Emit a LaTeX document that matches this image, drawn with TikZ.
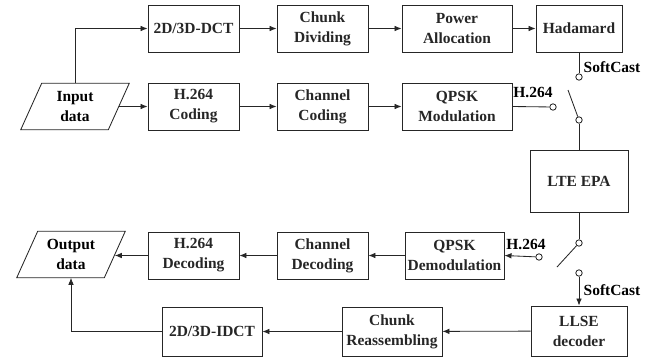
\documentclass[tikz,border=0pt]{standalone}
\usepackage{fontspec}
\setmainfont{Liberation Serif}
\usetikzlibrary{arrows.meta,calc}

\begin{document}
\begin{tikzpicture}[x=0.025cm,y=-0.025cm,
  line/.style={line width=0.6pt,color=black!85},
  arr/.style={line,-{Latex[length=5pt,width=4pt]}},
  block/.style={line,draw,align=center,minimum height=1.175cm,inner sep=1pt,
    font=\fontsize{11}{14.2}\selectfont\bfseries},
  io/.style={align=center,minimum width=2.175cm,minimum height=1.15cm,inner sep=0pt,
    font=\fontsize{11}{14.2}\selectfont\bfseries},
  contact/.style={line,draw,circle,fill=white,inner sep=0pt,minimum size=0.16cm},
  lbl/.style={font=\fontsize{11}{12}\selectfont\bfseries,inner sep=1pt}]
\useasboundingbox (0,0) rectangle (665,358);

% sender, SoftCast branch
\node[block,minimum width=2.275cm] (dct) at (193.5,28.5) {2D/3D-DCT};
\node[block,minimum width=2.275cm] (chunk) at (322.5,28.5) {Chunk\\Dividing};
\node[block,minimum width=2.75cm] (power) at (457,28.5) {Power\\Allocation};
\node[block,minimum width=2.15cm] (hada) at (579,28.5) {Hadamard};

% sender, H.264 branch
\node[io] (in) at (75,106.5) {Input\\data};
\draw[line] ($(in.south west)+(-10.5,0)$) -- ($(in.south east)+(-10.5,0)$)
  -- ($(in.north east)+(10.5,0)$) -- ($(in.north west)+(10.5,0)$) -- cycle;
\node[block,minimum width=2.275cm] (h264c) at (193.5,106.5) {H.264\\Coding};
\node[block,minimum width=2.275cm] (chcod) at (322.5,106.5) {Channel\\Coding};
\node[block,minimum width=2.75cm] (qpskm) at (457,106.5) {QPSK\\Modulation};

% channel
\node[block,minimum width=2.45cm,minimum height=1.55cm] (lte) at (579,181) {LTE EPA};

% receiver, H.264 branch
\node[io] (out) at (71,254.5) {Output\\data};
\draw[line] ($(out.south west)+(-10.5,0)$) -- ($(out.south east)+(-10.5,0)$)
  -- ($(out.north east)+(10.5,0)$) -- ($(out.north west)+(10.5,0)$) -- cycle;
\node[block,minimum width=2.275cm] (h264d) at (193.5,255.5) {H.264\\Decoding};
\node[block,minimum width=2.275cm] (chdec) at (322.5,255.5) {Channel\\Decoding};
\node[block,minimum width=2.475cm] (qpskd) at (454.5,255.5) {QPSK\\Demodulation};

% receiver, SoftCast branch
\node[block,minimum width=2.5cm,minimum height=1.225cm] (idct) at (212,331.5) {2D/3D-IDCT};
\node[block,minimum width=2.5cm,minimum height=1.225cm] (chre) at (392,331.5) {Chunk\\Reassembling};
\node[block,minimum width=2.4cm,minimum height=1.25cm] (llse) at (579,331) {LLSE\\decoder};

% switch contacts
\node[contact] (s1) at (579,77) {};
\node[contact] (h1) at (553,107) {};
\node[contact] (p1) at (579,120) {};
\coordinate (b1) at (568,90);
\node[contact] (p2) at (579,243) {};
\coordinate (b2) at (557,267);
\node[contact] (s2) at (579,273) {};
\node[contact] (h2) at (539,257) {};

\node[lbl,anchor=west] at (582,67) {SoftCast};
\node[lbl] at (533,92) {H.264};
\node[lbl,anchor=west] at (582,290) {SoftCast};
\node[lbl] at (526,244) {H.264};

% sender links
\draw[arr] (in.north) |- (dct.west);
\draw[arr] (dct) -- (chunk);
\draw[arr] (chunk) -- (power);
\draw[arr] (power) -- (hada);
\draw[arr] (in.east) -- (h264c.west);
\draw[arr] (h264c) -- (chcod);
\draw[arr] (chcod) -- (qpskm);
\draw[line] (qpskm.east) -- (h1);
\draw[line] (hada) -- (s1);
\draw[line] (b1) -- (p1);
\draw[line] (p1) -- (lte);

% receiver links
\draw[line] (lte) -- (p2);
\draw[line] (p2) -- (b2);
\draw[arr] (s2) -- (llse);
\draw[arr] (h2) -- (qpskd.east);
\draw[arr] (qpskd) -- (chdec);
\draw[arr] (chdec) -- (h264d);
\draw[arr] (h264d.west) -- ($(out.east)+(0,1)$);
\draw[arr] (llse) -- (chre);
\draw[arr] (chre) -- (idct);
\draw[arr] (idct.west) -| (out.south);

\end{tikzpicture}
\end{document}
